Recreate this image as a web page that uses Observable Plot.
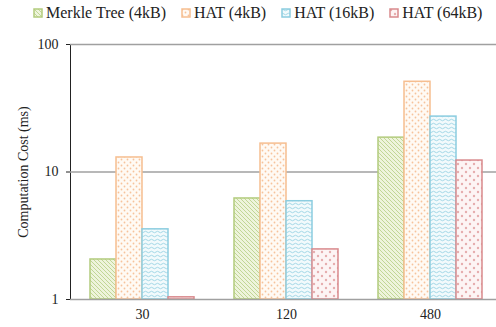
<!DOCTYPE html>
<html>
<head>
<meta charset="utf-8">
<script src="https://cdn.jsdelivr.net/npm/d3@7"></script>
<script src="https://cdn.jsdelivr.net/npm/@observablehq/plot@0.6"></script>
<style>
  html, body { margin: 0; padding: 0; background: #fff; }
  body { width: 496px; height: 327px; overflow: hidden; font-family: "Liberation Serif", "DejaVu Serif", serif; }
  #legend { height: 26px; display: flex; align-items: center; padding-left: 33px; font-size: 16px; color: #222; }
  #legend .item { display: flex; align-items: center; margin-right: 15px; white-space: nowrap; }
  #legend svg { margin-right: 3px; }
  #chart { width: 496px; overflow: hidden; }
  #chart svg { max-width: none !important; }
</style>
</head>
<body>
<svg width="0" height="0" style="position:absolute">
  <defs>
    <pattern id="pMerkle" width="4" height="4" patternUnits="userSpaceOnUse">
      <rect width="4" height="4" fill="#eef4dc"/>
      <path d="M0,0L4,4M-1,3L1,5M3,-1L5,1" stroke="#bcd38e" stroke-width="0.9"/>
    </pattern>
    <pattern id="pHat4" width="6" height="6" patternUnits="userSpaceOnUse">
      <rect width="6" height="6" fill="#fffaf4"/>
      <circle cx="1.5" cy="1.5" r="0.9" fill="#f7c39b"/>
      <circle cx="4.5" cy="4.5" r="0.9" fill="#f7c39b"/>
    </pattern>
    <pattern id="pHat16" width="6" height="4" patternUnits="userSpaceOnUse">
      <rect width="6" height="4" fill="#f2fafc"/>
      <path d="M0,2Q1.5,0.5 3,2T6,2" fill="none" stroke="#98d2e2" stroke-width="0.9"/>
    </pattern>
    <pattern id="pHat64" width="8" height="8" patternUnits="userSpaceOnUse">
      <rect width="8" height="8" fill="#fdf4f4"/>
      <circle cx="2" cy="2" r="1.2" fill="#e6adae"/>
      <circle cx="6" cy="6" r="1.2" fill="#e6adae"/>
    </pattern>
  </defs>
</svg>
<div id="legend"></div>
<div id="chart"></div>
<script>
const groups = ["30", "120", "480"];
const series = ["Merkle Tree (4kB)", "HAT (4kB)", "HAT (16kB)", "HAT (64kB)"];
const merkle4k = [2.06, 6.2, 18.6];
const hat4k = [13.0, 16.7, 51];
const hat16k = [3.55, 5.9, 27.2];
const hat64k = [1.04, 2.47, 12.3];
const yTicks = [1, 10, 100];

const fills = ["url(#pMerkle)", "url(#pHat4)", "url(#pHat16)", "url(#pHat64)"];
const strokes = ["#b3cc7e", "#f6be90", "#8ccde0", "#d98a8d"];

const valuesBySeries = [merkle4k, hat4k, hat16k, hat64k];
const rows = [];
series.forEach((s, i) => groups.forEach((g, j) => rows.push({group: g, series: s, value: valuesBySeries[i][j]})));

// legend
const legend = document.getElementById("legend");
series.forEach((s, i) => {
  const item = document.createElement("div");
  item.className = "item";
  item.innerHTML = `<svg width="10" height="10"><rect x="1" y="1" width="8" height="8" fill="${fills[i]}" stroke="${strokes[i]}" stroke-width="1.5"/></svg><span>${s}</span>`;
  legend.appendChild(item);
});

const chart = Plot.plot({
  width: 502,
  height: 301,
  marginLeft: 70,
  marginRight: 0,
  marginTop: 18,
  marginBottom: 28,
  style: {fontFamily: "Liberation Serif, serif", fontSize: "14px", color: "#222", background: "#fff"},
  fx: {domain: groups, padding: 0, axis: "bottom", tickSize: 0, tickPadding: 10, label: null},
  x: {domain: series, paddingInner: 0, paddingOuter: 0.72, axis: null},
  y: {type: "log", domain: [1, 100], ticks: yTicks, tickFormat: d => String(d), tickSize: 4, tickPadding: 8,
      label: "Computation Cost (ms)", labelAnchor: "center", labelArrow: "none", labelOffset: 52, line: true},
  marks: [
    Plot.gridY([10, 100], {stroke: "#a0a0a0", strokeOpacity: 1, strokeWidth: 1.5}),
    ...series.map((s, i) => Plot.barY(rows.filter(d => d.series === s), {
      fx: "group", x: "series", y1: () => 1, y2: "value",
      fill: fills[i], stroke: strokes[i], strokeWidth: 1.5
    })),
    Plot.ruleY([1], {stroke: "#a0a0a0", strokeWidth: 1.5})
  ]
});
chart.style.maxWidth = "none";
document.getElementById("chart").appendChild(chart);
</script>
</body>
</html>
